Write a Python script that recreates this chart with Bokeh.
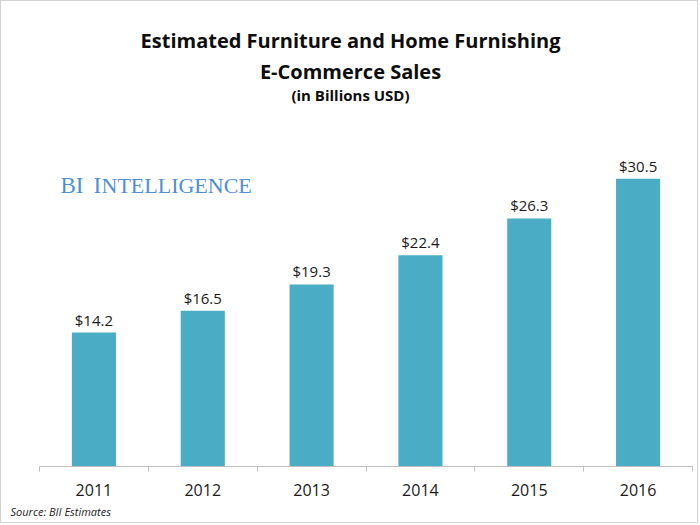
import numpy as np
from bokeh.plotting import figure
from bokeh.models import Range1d, FixedTicker, Label, Title
from bokeh.embed import file_html
from bokeh.resources import INLINE
from bokeh.core.properties import value

# ---- data ----
years = ["2011", "2012", "2013", "2014", "2015", "2016"]
sales = [14.2, 16.5, 19.3, 22.4, 26.3, 30.5]
value_labels = ["$%.1f" % v for v in sales]
title_lines = ["Estimated Furniture and Home Furnishing", "E-Commerce Sales", "(in Billions USD)"]
brand_parts = ["BI", "I", "NTELLIGENCE"]
source_note = "Source: BII Estimates"

W, H = 698, 523
xs = np.arange(len(years)) + 0.5

p = figure(width=W, height=H, output_backend="svg", toolbar_location=None,
           x_range=Range1d(0, len(years)), y_range=Range1d(0, 49.3),
           y_axis_location=None,
           min_border_left=38, min_border_right=7, min_border_top=0, min_border_bottom=58,
           background_fill_color="white", border_fill_color="white")
p.title.visible = False
p.styles = {"border": "1px solid #d2d2d2"}
p.outline_line_color = None
p.xgrid.visible = False
p.ygrid.visible = False

p.vbar(x=xs, top=sales, bottom=0, width=0.405, fill_color="#4bacc6", line_color=None)
p.text(x=xs, y=sales, text=value_labels, text_align="center", text_baseline="bottom",
       y_offset=-3, text_font=value("Open Sans"), text_font_size="15px", text_color="#1a1a1a")

ax = p.xaxis[0]
ax.ticker = FixedTicker(ticks=list(xs), minor_ticks=list(range(len(years) + 1)))
ax.major_label_overrides = {float(x): y for x, y in zip(xs, years)}
ax.major_tick_in = 0
ax.major_tick_out = 0
ax.minor_tick_in = 0
ax.minor_tick_out = 5
ax.minor_tick_line_color = "#bfbfbf"
ax.axis_line_color = "#bfbfbf"
ax.major_label_standoff = 12
ax.major_label_text_font = "Open Sans"
ax.major_label_text_font_size = "16px"
ax.major_label_text_color = "#1a1a1a"

# titles (screen units relative to frame)
def lab(text, x, y, size, style="normal", font="Open Sans", color="#0d0d0d",
        align="center", baseline="middle"):
    p.add_layout(Label(x=x, y=y, x_units="screen", y_units="screen", text=text,
                       text_font=font, text_font_size=size, text_font_style=style,
                       text_color=color, text_align=align, text_baseline=baseline))

lab(title_lines[0], 311, 426, "20px", "bold")
lab(title_lines[1], 311, 395, "20px", "bold")
lab(title_lines[2], 311, 372, "15px", "bold")

src = Title(text=source_note, align="left", offset=-29, standoff=6,
            text_font="Open Sans", text_font_size="11px", text_font_style="italic",
            text_color="#222222")
p.add_layout(src, "below")

# brand (small caps imitation)
brand_color = "#4f8fd6"
lab(brand_parts[0], 21, 281, "23px", font="Liberation Serif", color=brand_color,
    align="left", baseline="alphabetic")
lab(brand_parts[1], 54, 281, "23px", font="Liberation Serif", color=brand_color,
    align="left", baseline="alphabetic")
lab(brand_parts[2], 62, 281, "22px", font="Liberation Serif", color=brand_color,
    align="left", baseline="alphabetic")

open("out.html", "w").write(file_html(p, INLINE))
